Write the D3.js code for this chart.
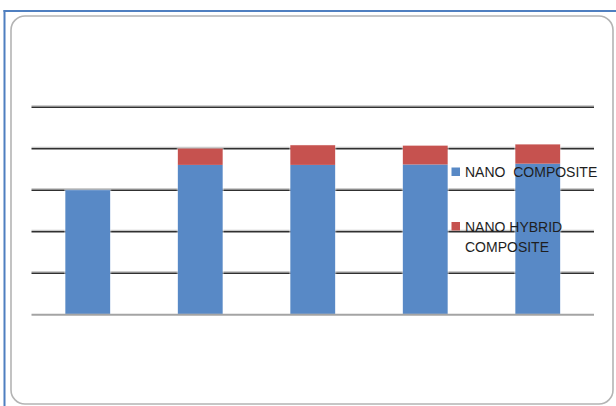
<!DOCTYPE html>
<html>
<head>
<meta charset="utf-8">
<script src="https://cdn.jsdelivr.net/npm/d3@7"></script>
<style>
  html, body { margin: 0; padding: 0; background: #ffffff; }
  svg { display: block; }
</style>
</head>
<body>
<div id="chart"></div>
<script>
// Samples along the horizontal axis (no labels are shown on the axis)
const categories = ["S1", "S2", "S3", "S4", "S5"];
// Stacked series values
const nanoComposite = [3.0, 3.6, 3.6, 3.61, 3.63];
const nanoHybridComposite = [0, 0.4, 0.48, 0.46, 0.47];
// Horizontal gridline values
const gridTicks = [0, 1, 2, 3, 4, 5];
// Legend entries
const legendLabels = [["NANO  COMPOSITE"], ["NANO HYBRID", "COMPOSITE"]];

const W = 616, H = 406;
const colors = ["#5889c6", "#c6524f"];

const svg = d3.select("#chart").append("svg")
  .attr("width", W).attr("height", H);

// Outer blue frame (top and left edges)
svg.append("line").attr("x1", 3.5).attr("x2", W).attr("y1", 11).attr("y2", 11)
  .attr("stroke", "#4f7fc0").attr("stroke-width", 2);
svg.append("line").attr("x1", 4.5).attr("x2", 4.5).attr("y1", 10).attr("y2", H)
  .attr("stroke", "#4f7fc0").attr("stroke-width", 2);

// Rounded chart area
svg.append("rect")
  .attr("x", 11).attr("y", 16).attr("width", 602).attr("height", 388)
  .attr("rx", 14).attr("ry", 14)
  .attr("fill", "#ffffff").attr("stroke", "#b4b4b4").attr("stroke-width", 1.6);

// Scales
const x = d3.scaleBand().domain(categories)
  .range([31.5, 594]).paddingInner(0.6).paddingOuter(0.3);
const y = d3.scaleLinear().domain([0, 5]).range([314.3, 106.8]);

// Gridlines
const grid = svg.append("g");
gridTicks.filter(t => t > 0).forEach(t => {
  grid.append("line")
    .attr("x1", x.range()[0]).attr("x2", x.range()[1])
    .attr("y1", y(t) - 1).attr("y2", y(t) - 1)
    .attr("stroke", "#b8b8b8").attr("stroke-width", 1);
  grid.append("line")
    .attr("x1", x.range()[0]).attr("x2", x.range()[1])
    .attr("y1", y(t) + 0.5).attr("y2", y(t) + 0.5)
    .attr("stroke", "#303030").attr("stroke-width", 1.6);
});

// Stacked bars
const rows = categories.map((c, i) => ({ cat: c, nano: nanoComposite[i], hybrid: nanoHybridComposite[i] }));
const stacked = d3.stack().keys(["nano", "hybrid"])(rows);

svg.append("g").selectAll("g").data(stacked).join("g")
  .attr("fill", (d, i) => colors[i])
  .selectAll("rect").data(d => d).join("rect")
  .attr("x", d => x(d.data.cat))
  .attr("width", x.bandwidth())
  .attr("y", d => y(d[1]))
  .attr("height", d => Math.max(0, y(d[0]) - y(d[1])));

// Light edges on the bar sides
svg.append("g").selectAll("rect").data(rows).join("rect")
  .attr("x", d => x(d.cat) - 0.5)
  .attr("width", x.bandwidth() + 1)
  .attr("y", d => y(d.nano + d.hybrid))
  .attr("height", d => y(0) - y(d.nano + d.hybrid))
  .attr("fill", "none").attr("stroke", "#ffffff").attr("stroke-opacity", 0.45).attr("stroke-width", 1);

// Baseline
svg.append("line")
  .attr("x1", x.range()[0]).attr("x2", x.range()[1])
  .attr("y1", y(0) + 0.5).attr("y2", y(0) + 0.5)
  .attr("stroke", "#a4a4a4").attr("stroke-width", 2);

// Legend
const legendY = [172, 226.5];
const legend = svg.append("g");
legendLabels.forEach((lines, i) => {
  legend.append("rect")
    .attr("x", 451.5).attr("y", legendY[i] - 4.5).attr("width", 8.5).attr("height", 8.5)
    .attr("fill", colors[i]);
  const t = legend.append("text")
    .attr("x", 465).attr("y", legendY[i] + 5)
    .attr("font-family", "'Liberation Sans', Arial, sans-serif")
    .attr("font-size", 14).attr("fill", "#1e1e1e")
    .style("white-space", "pre");
  lines.forEach((ln, j) => {
    t.append("tspan").attr("x", 465).attr("dy", j === 0 ? 0 : 20).text(ln);
  });
});
</script>
</body>
</html>
